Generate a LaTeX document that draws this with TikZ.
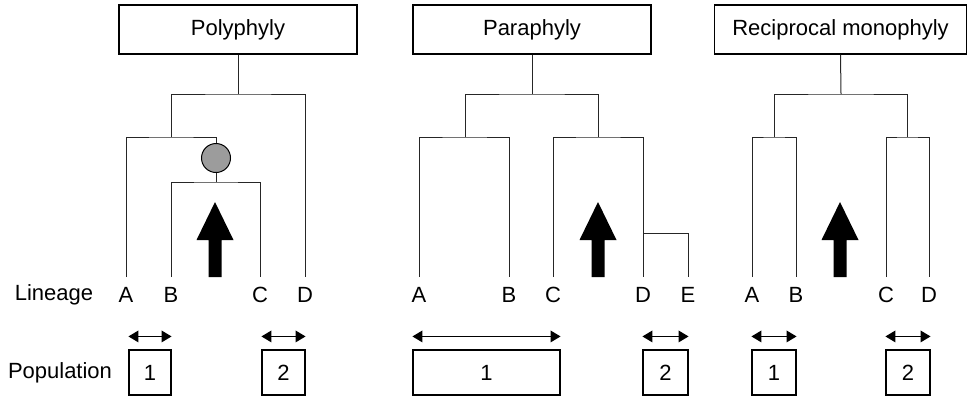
\documentclass[tikz,border=0pt]{standalone}
\usepackage{fontspec}
\setmainfont{Liberation Sans}
\definecolor{nodegray}{HTML}{9C9C9C}
\tikzset{
  tree/.style={line width=1pt, draw=black!85},
  titlebox/.style={draw, line width=1.1pt, minimum height=49pt, inner sep=0pt, font=\fontsize{22}{26}\selectfont},
  popbox/.style={draw, line width=1.1pt, minimum height=45pt, inner sep=0pt, font=\fontsize{22}{26}\selectfont},
  lab/.style={inner sep=0pt, font=\fontsize{22}{26}\selectfont},
  spanline/.style={line width=1.1pt},
  bigarrow/.style={fill=black, draw=none},
  event/.style={circle, draw, line width=1pt, fill=nodegray, minimum size=29pt, inner sep=0pt}
}
% big upward arrow centred at x = #1
\newcommand{\uparrowat}[1]{%
  \fill[bigarrow] (#1,202) -- (#1+18.5,240) -- (#1+6.5,240) -- (#1+6.5,277)
    -- (#1-6.5,277) -- (#1-6.5,240) -- (#1-18.5,240) -- cycle;}
% two-headed span arrow above population box #1
\newcommand{\popspan}[1]{%
  \draw[spanline] ([xshift=8pt,yshift=13pt]#1.north west) -- ([xshift=-8pt,yshift=13pt]#1.north east);
  \fill ([yshift=13pt]#1.north west) -- ([xshift=10pt,yshift=19pt]#1.north west)
    -- ([xshift=10pt,yshift=7pt]#1.north west) -- cycle;
  \fill ([yshift=13pt]#1.north east) -- ([xshift=-10pt,yshift=19pt]#1.north east)
    -- ([xshift=-10pt,yshift=7pt]#1.north east) -- cycle;}
\begin{document}
\begin{tikzpicture}[x=1pt, y=-1pt]
\useasboundingbox (0,0) rectangle (968,400);

% row labels
\node[lab] (lineage) at (54,295) {Lineage};
\node[lab] (population) at (60,372.5) {Population};

% ---------- Polyphyly ----------
\node[titlebox, minimum width=238pt] (t1) at (238,29.5) {Polyphyly};
\coordinate (p1c1) at (238,94);
\coordinate (p1c2) at (171,137);
\coordinate (p1c3) at (216,182);
\coordinate (p1A) at (126,277);
\coordinate (p1B) at (171,277);
\coordinate (p1C) at (260,277);
\coordinate (p1D) at (305,277);
\node[event] (p1ev) at (216,158) {};
\draw[tree] (t1.south) -- (p1c1);
\draw[tree] (p1c2) |- (p1c1) -| (p1D);
\draw[tree] (p1A) |- (p1c2) -| (p1ev.north);
\draw[tree] (p1ev.south) -- (p1c3);
\draw[tree] (p1B) |- (p1c3) -| (p1C);
\uparrowat{215}
\node[lab] (p1lA) at (126,295) {A};
\node[lab] (p1lB) at (171,295) {B};
\node[lab] (p1lC) at (260,295) {C};
\node[lab] (p1lD) at (305,295) {D};
\node[popbox, minimum width=42pt] (p1pop1) at (150,372.5) {1};
\node[popbox, minimum width=43pt] (p1pop2) at (283.5,372.5) {2};
\popspan{p1pop1}
\popspan{p1pop2}

% ---------- Paraphyly ----------
\node[titlebox, minimum width=238pt] (t2) at (532,29.5) {Paraphyly};
\coordinate (p2c1) at (532,94);
\coordinate (p2c2) at (465,137);
\coordinate (p2c3) at (598,137);
\coordinate (p2c4) at (643,233);
\coordinate (p2A) at (419,277);
\coordinate (p2B) at (509,277);
\coordinate (p2C) at (553,277);
\coordinate (p2D) at (643,277);
\coordinate (p2E) at (688,277);
\draw[tree] (t2.south) -- (p2c1);
\draw[tree] (p2c2) |- (p2c1) -| (p2c3);
\draw[tree] (p2A) |- (p2c2) -| (p2B);
\draw[tree] (p2C) |- (p2c3) -| (p2D);
\draw[tree] (p2c4) -| (p2E);
\uparrowat{598}
\node[lab] (p2lA) at (419,295) {A};
\node[lab] (p2lB) at (509,295) {B};
\node[lab] (p2lC) at (553,295) {C};
\node[lab] (p2lD) at (643,295) {D};
\node[lab] (p2lE) at (688,295) {E};
\node[popbox, minimum width=147pt] (p2pop1) at (486.5,372.5) {1};
\node[popbox, minimum width=45pt] (p2pop2) at (665.5,372.5) {2};
\popspan{p2pop1}
\popspan{p2pop2}

% ---------- Reciprocal monophyly ----------
\node[titlebox, minimum width=252pt] (t3) at (840.5,29.5) {Reciprocal monophyly};
\coordinate (p3c1) at (841,94);
\coordinate (p3c2) at (774,137);
\coordinate (p3c3) at (907,137);
\coordinate (p3A) at (752,277);
\coordinate (p3B) at (796,277);
\coordinate (p3C) at (886,277);
\coordinate (p3D) at (929,277);
\draw[tree] (t3.south) -- (p3c1);
\draw[tree] (p3c2) |- (p3c1) -| (p3c3);
\draw[tree] (p3A) |- (p3c2) -| (p3B);
\draw[tree] (p3C) |- (p3c3) -| (p3D);
\uparrowat{840}
\node[lab] (p3lA) at (752,295) {A};
\node[lab] (p3lB) at (796,295) {B};
\node[lab] (p3lC) at (886,295) {C};
\node[lab] (p3lD) at (929,295) {D};
\node[popbox, minimum width=44pt] (p3pop1) at (774,372.5) {1};
\node[popbox, minimum width=44pt] (p3pop2) at (908,372.5) {2};
\popspan{p3pop1}
\popspan{p3pop2}
\end{tikzpicture}
\end{document}
